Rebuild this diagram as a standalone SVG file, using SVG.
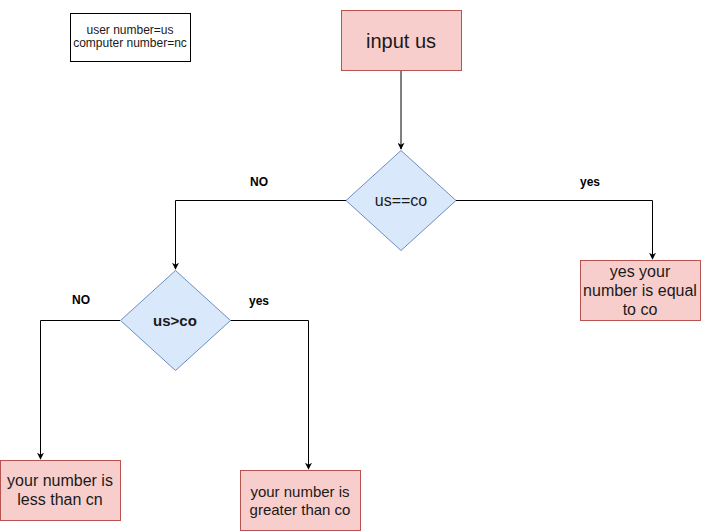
<svg xmlns="http://www.w3.org/2000/svg" width="702" height="532" viewBox="0 0 702 532">
<defs>
<marker id="arr" viewBox="0 0 10 10" refX="9" refY="5" markerWidth="7" markerHeight="7" markerUnits="userSpaceOnUse" orient="auto"><path d="M0,0 L10,5 L0,10 L3,5 Z" fill="#000"/></marker>
<style>
.red{fill:#f8cecc;stroke:#b85450;stroke-width:1}
.blue{fill:#dae8fc;stroke:#6c8ebf;stroke-width:1}
.t{font-family:"Liberation Sans",Arial,sans-serif;fill:#1a1a1a;text-anchor:middle}
.lbl{font-family:"Liberation Sans",Arial,sans-serif;font-size:12px;font-weight:bold;fill:#000;text-anchor:middle}
.c{fill:none;stroke:#000;stroke-width:1}
</style>
</defs>
<rect width="702" height="532" fill="#fff"/>
<g id="legend">
<rect x="70.5" y="13.5" width="120" height="48" fill="#fff" stroke="#000"/>
<text class="t" x="130" y="34" font-size="12" fill="#000">user number=us</text>
<text class="t" x="130" y="47" font-size="12" fill="#000">computer number=nc</text>
</g>
<g id="connectors">
<path class="c" d="M401,70 L401,149" marker-end="url(#arr)"/>
<path class="c" d="M346,200.5 L175.5,200.5 L175.5,269" marker-end="url(#arr)"/>
<path class="c" d="M456,200.5 L652.5,200.5 L652.5,259" marker-end="url(#arr)"/>
<path class="c" d="M120,320.5 L40.5,320.5 L40.5,459" marker-end="url(#arr)"/>
<path class="c" d="M230,320.5 L308.5,320.5 L308.5,469" marker-end="url(#arr)"/>
<text class="lbl" x="259" y="186">NO</text>
<text class="lbl" x="590" y="186">yes</text>
<text class="lbl" x="81" y="304">NO</text>
<text class="lbl" x="259" y="305">yes</text>
</g>
<g id="input">
<rect class="red" x="341.5" y="10.5" width="120" height="60"/>
<text class="t" x="401" y="48" font-size="20">input us</text>
</g>
<g id="eq">
<path class="blue" d="M401,150.5 L456,200.5 L401,250.5 L346,200.5 Z"/>
<text class="t" x="401" y="206" font-size="16">us==co</text>
</g>
<g id="gt">
<path class="blue" d="M175.5,270.5 L230.5,320.5 L175.5,370.5 L120.5,320.5 Z"/>
<text class="t" x="175" y="326" font-size="15" font-weight="bold" fill="#000">us&gt;co</text>
</g>
<g id="equal">
<rect class="red" x="580.5" y="260.5" width="120" height="60"/>
<text class="t" x="640" y="277" font-size="16">yes your</text>
<text class="t" x="640" y="296" font-size="16">number is equal</text>
<text class="t" x="640" y="315" font-size="16">to co</text>
</g>
<g id="less">
<rect class="red" x="0.5" y="460.5" width="120" height="60"/>
<text class="t" x="60" y="486" font-size="16">your number is</text>
<text class="t" x="60" y="505" font-size="16">less than cn</text>
</g>
<g id="greater">
<rect class="red" x="240.5" y="470.5" width="120" height="60"/>
<text class="t" x="300" y="497" font-size="15">your number is</text>
<text class="t" x="300" y="515" font-size="15">greater than co</text>
</g>
</svg>
